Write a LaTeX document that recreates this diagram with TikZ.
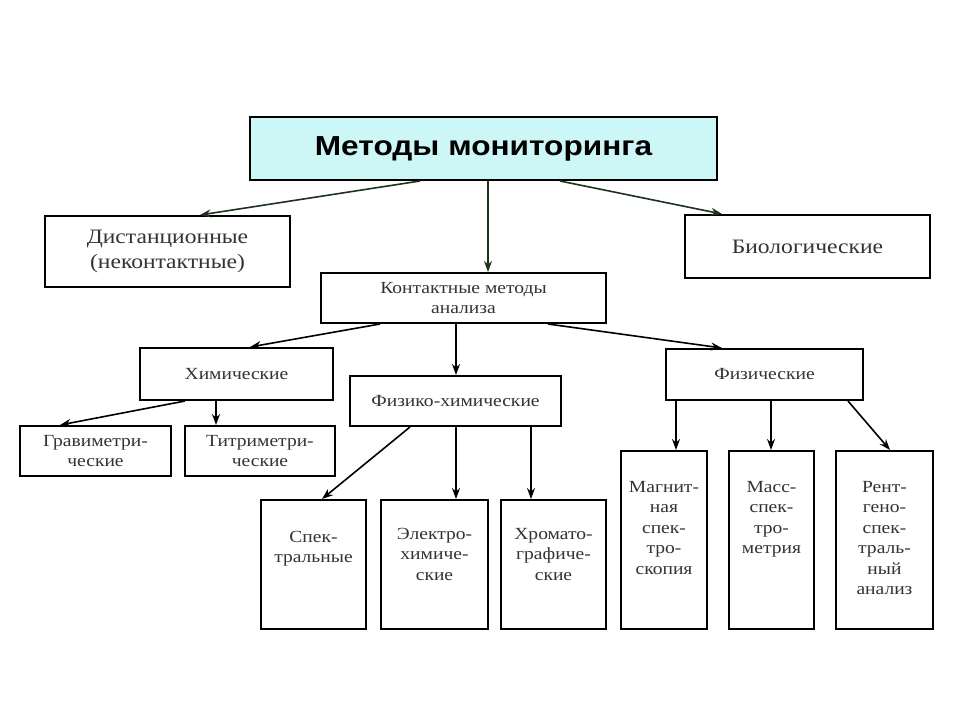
\documentclass[tikz,border=0pt]{standalone}
\usepackage{fontspec}
\setmainfont{Liberation Serif}[FakeStretch=1.15]
\newfontfamily\titlefont{Liberation Sans}[FakeStretch=1.15]
\usetikzlibrary{arrows.meta}
\definecolor{titlefill}{HTML}{CDF6F6}
\definecolor{txt}{HTML}{333333}
\definecolor{toparrow}{HTML}{1E321E}
\tikzset{
  box/.style={draw=black, line width=2pt, fill=white, inner sep=0pt, align=center, text=txt},
  f16/.style={font=\fontsize{17}{20.5}\selectfont},
  f20/.style={font=\fontsize{20.5}{24.5}\selectfont},
  arr/.style={line width=1.6pt, -{Stealth[length=11pt,width=8pt]}},
  toparr/.style={arr, draw=toparrow},
}
\newcommand{\tallbox}[4]{\parbox[c][#2][t]{#1}{\centering\vspace*{#3}#4}}
\begin{document}
\begin{tikzpicture}[x=1pt,y=-1pt]
\useasboundingbox (0,0) rectangle (960,720);
\fill[white] (0,0) rectangle (960,720);
% level 0
\node[box, fill=titlefill, text=black, minimum width=467pt, minimum height=63pt,
  font=\titlefont\bfseries\fontsize{27.5}{31}\selectfont] (top) at (483.5,148.5) {Методы мониторинга};
% level 1
\node[box, f20, minimum width=245pt, minimum height=71pt] (dist) at (167.5,251.5) {Дистанционные\\(неконтактные)};
\node[box, f20, minimum width=245pt, minimum height=63pt] (bio) at (807.5,246.5) {Биологические};
\node[box, f16, minimum width=285pt, minimum height=50pt] (cont) at (463.5,298) {Контактные методы\\анализа};
% level 2
\node[box, f16, minimum width=193pt, minimum height=52pt] (chem) at (236.5,374) {Химические};
\node[box, f16, minimum width=211pt, minimum height=50pt] (fch) at (455.5,401) {Физико-химические};
\node[box, f16, minimum width=197pt, minimum height=51pt] (phys) at (764.5,374.5) {Физические};
% level 3
\node[box, f16, minimum width=151pt, minimum height=50pt] (grav) at (95.5,451) {Гравиметри-\\ческие};
\node[box, f16, minimum width=150pt, minimum height=50pt] (titr) at (260,451) {Титриметри-\\ческие};
\node[box, f16] (spec) at (313.5,564.5) {\tallbox{105pt}{129pt}{31pt}{Спек-\\тральные}};
\node[box, f16] (elec) at (434.5,564.5) {\tallbox{107pt}{129pt}{28pt}{Электро-\\химиче-\\ские}};
\node[box, f16] (chrom) at (553.5,564.5) {\tallbox{105pt}{129pt}{28pt}{Хромато-\\графиче-\\ские}};
\node[box, f16] (magn) at (664,540) {\tallbox{86pt}{178pt}{30pt}{Магнит-\\ная\\спек-\\тро-\\скопия}};
\node[box, f16] (mass) at (771.5,540) {\tallbox{85pt}{178pt}{30pt}{Масс-\\спек-\\тро-\\метрия}};
\node[box, f16] (rent) at (884.5,540) {\tallbox{97pt}{178pt}{30pt}{Рент-\\гено-\\спек-\\траль-\\ный\\анализ}};
% arrows level 0
\draw[toparr] ([xshift=-63.5pt]top.south) -- ([xshift=32.5pt]dist.north);
\draw[toparr] ([xshift=4.5pt]top.south) -- ([xshift=24.5pt]cont.north);
\draw[toparr] ([xshift=76.5pt]top.south) -- ([xshift=-85.5pt]bio.north);
% arrows level 1
\draw[arr] ([xshift=-83.5pt]cont.south) -- ([xshift=13.5pt]chem.north);
\draw[arr] ([xshift=-7.5pt]cont.south) -- ([xshift=0.5pt]fch.north);
\draw[arr] ([xshift=84.5pt]cont.south) -- ([xshift=-42.5pt]phys.north);
% arrows level 2
\draw[arr] ([xshift=-51.5pt]chem.south) -- ([xshift=-35.5pt]grav.north);
\draw[arr] ([xshift=-20.5pt]chem.south) -- ([xshift=-44pt]titr.north);
\draw[arr] ([xshift=-45.5pt]fch.south) -- ([xshift=8.5pt]spec.north);
\draw[arr] ([xshift=0.5pt]fch.south) -- ([xshift=21.5pt]elec.north);
\draw[arr] ([xshift=75.5pt]fch.south) -- ([xshift=-22.5pt]chrom.north);
\draw[arr] ([xshift=-88.5pt]phys.south) -- ([xshift=12pt]magn.north);
\draw[arr] ([xshift=6.5pt]phys.south) -- ([xshift=-0.5pt]mass.north);
\draw[arr] ([xshift=83.5pt]phys.south) -- ([xshift=5.5pt]rent.north);
\end{tikzpicture}
\end{document}
